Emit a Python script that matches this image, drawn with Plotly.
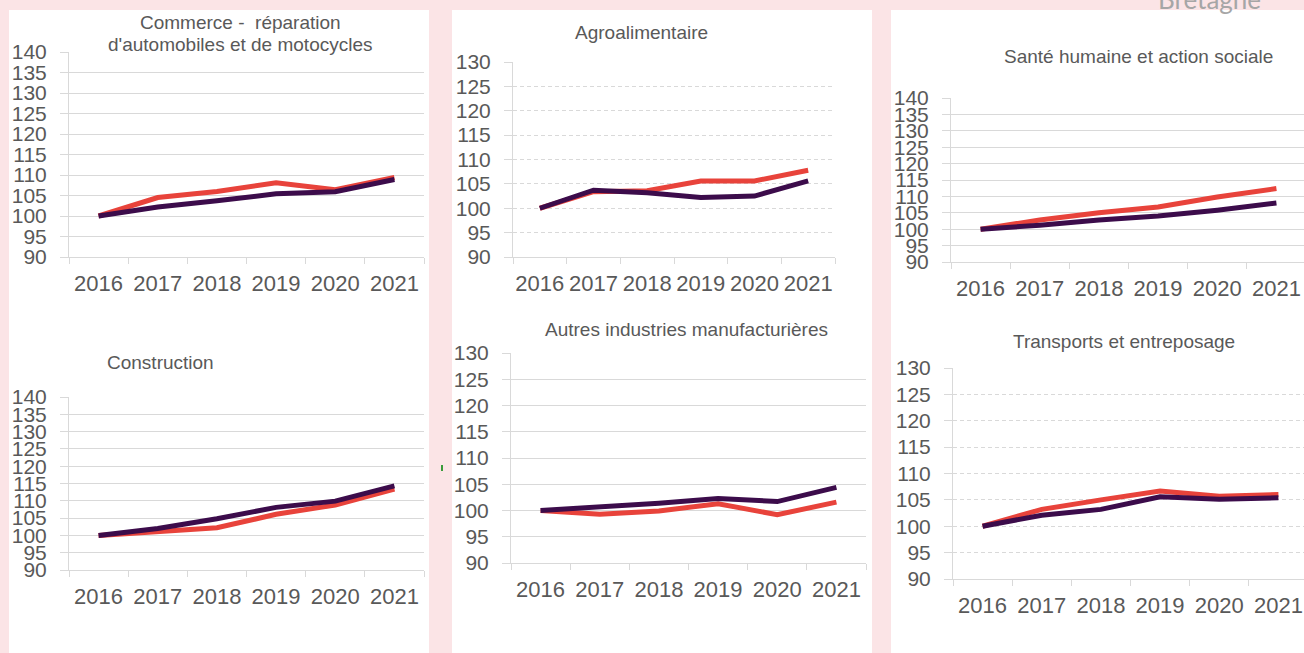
import plotly.graph_objects as go

W, H = 1304, 653

years = ["2016", "2017", "2018", "2019", "2020", "2021"]

titles = [
    ["Commerce -  réparation", "d'automobiles et de motocycles"],
    ["Agroalimentaire"],
    ["Santé humaine et action sociale"],
    ["Construction"],
    ["Autres industries manufacturières"],
    ["Transports et entreposage"],
]

# red series (drawn first) and purple series (drawn on top), indices 2016 = 100
commerce_red = [100, 104.5, 106.0, 108.1, 106.4, 109.4]
commerce_purple = [100, 102.2, 103.7, 105.4, 105.9, 108.9]
agro_red = [100, 103.4, 103.6, 105.6, 105.6, 107.8]
agro_purple = [100, 103.7, 103.2, 102.2, 102.5, 105.6]
sante_red = [100, 102.8, 105.0, 106.8, 109.8, 112.4]
sante_purple = [100, 101.2, 102.8, 104.0, 105.8, 108.0]
construction_red = [100, 101.1, 102.2, 106.1, 108.8, 113.4]
construction_purple = [100, 102.0, 104.8, 108.1, 109.9, 114.3]
autres_red = [100, 99.3, 99.9, 101.3, 99.2, 101.6]
autres_purple = [100, 100.6, 101.4, 102.3, 101.7, 104.4]
transports_red = [100, 103.2, 105.0, 106.7, 105.7, 106.0]
transports_purple = [100, 102.1, 103.2, 105.6, 105.1, 105.4]

red_series = [commerce_red, agro_red, sante_red, construction_red, autres_red, transports_red]
purple_series = [commerce_purple, agro_purple, sante_purple, construction_purple, autres_purple, transports_purple]
y_max = [140, 130, 140, 140, 130, 130]

RED = "#e8433b"
PURPLE = "#3c0c4b"
GRID = "#d9d9d9"
TXT = "#595959"
PINK = "#fbe4e6"
FONT = "Liberation Sans, Arial, sans-serif"

# plot boxes in pixels: left, right, top, bottom
boxes = [
    (69, 424, 52, 257),
    (513, 835, 62, 257),
    (951, 1306, 98, 262),
    (69, 424, 397, 570),
    (511, 866, 353, 563),
    (953, 1308, 368, 579),
]
dashed = [False, True, False, False, False, True]
# title line centres (x, y) in pixels
title_pos = [
    [(240, 23), (240, 44)],
    [(641, 32)],
    [(1138, 57)],
    [(160, 362)],
    [(686, 329)],
    [(1124, 341)],
]


def px(x):
    return x / W


def py(y):
    return 1 - y / H


fig = go.Figure()

for i in range(6):
    n = "" if i == 0 else str(i + 1)
    l, r, t, b = boxes[i]
    right = min(r, W)
    xr = [-0.5, -0.5 + 6 * (right - l) / (r - l)]
    fig.add_trace(go.Scatter(x=years, y=red_series[i], mode="lines",
                             line=dict(color=RED, width=5),
                             xaxis="x" + n, yaxis="y" + n, hoverinfo="skip"))
    fig.add_trace(go.Scatter(x=years, y=purple_series[i], mode="lines",
                             line=dict(color=PURPLE, width=5),
                             xaxis="x" + n, yaxis="y" + n, hoverinfo="skip"))
    fig.layout["xaxis" + n] = dict(
        domain=[px(l), px(right)], anchor="y" + n, type="category", range=xr,
        showgrid=False, showline=True, linecolor=GRID, linewidth=1,
        ticks="outside", tickson="boundaries", ticklen=6, tickcolor=GRID,
        tickangle=0, automargin=False,
        tickfont=dict(size=22, color=TXT, family=FONT), ticklabelstandoff=7,
        fixedrange=True,
    )
    fig.layout["yaxis" + n] = dict(
        domain=[py(b), py(t)], anchor="x" + n, range=[90, y_max[i]],
        dtick=5, tick0=90, showgrid=True, gridcolor=GRID, gridwidth=1,
        griddash="4px,3px" if dashed[i] else "solid",
        zeroline=False, showline=True, linecolor=GRID, linewidth=1,
        ticks="outside", ticklen=8, tickcolor=GRID, automargin=False,
        tickfont=dict(size=21, color=TXT, family=FONT), ticklabelstandoff=9,
        fixedrange=True,
    )
    for line, (cx, cy) in zip(titles[i], title_pos[i]):
        fig.add_annotation(text=line, x=px(cx), y=py(cy), xref="paper", yref="paper",
                           xanchor="center", yanchor="middle", showarrow=False,
                           font=dict(size=19, color=TXT, family=FONT))

# white panels
for x0, x1 in [(9, 429), (452, 872), (891, 1304)]:
    fig.add_shape(type="rect", xref="paper", yref="paper", layer="below",
                  x0=px(x0), x1=px(x1), y0=0, y1=py(10),
                  fillcolor="white", line=dict(width=0))

# small green mark between panels
fig.add_shape(type="line", xref="paper", yref="paper",
              x0=px(442), x1=px(442), y0=py(465), y1=py(471),
              line=dict(color="#3a9b3a", width=2))

# cut-off region label at the very top
fig.add_annotation(text="Bretagne", x=px(1209), y=py(-1), xref="paper", yref="paper",
                   xanchor="center", yanchor="middle", showarrow=False,
                   font=dict(size=26, color="#a6a6a6", family="Lato, sans-serif"))

fig.update_layout(
    width=W, height=H, margin=dict(l=0, r=0, t=0, b=0, autoexpand=False),
    paper_bgcolor=PINK, plot_bgcolor="rgba(0,0,0,0)",
    showlegend=False,
)

fig.write_html(
    "out.html",
    config={"displayModeBar": False},
    post_script="document.body.style.margin='0';document.body.style.overflow='hidden';",
)
